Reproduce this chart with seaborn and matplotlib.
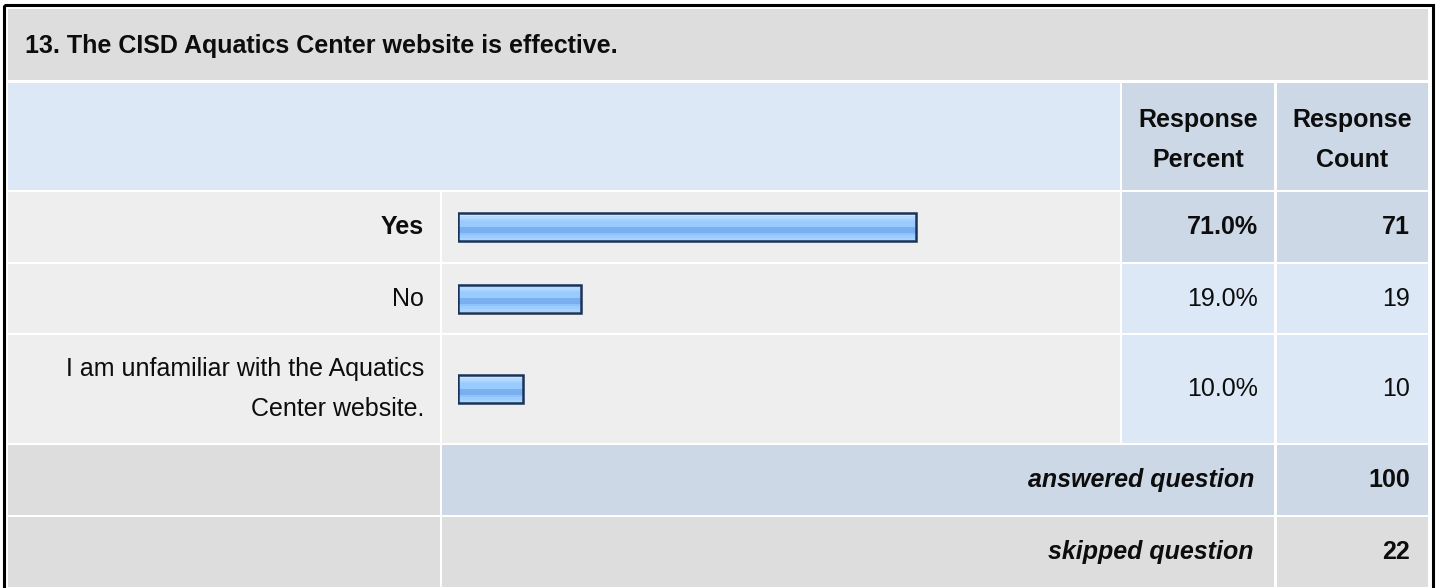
import matplotlib
matplotlib.use('Agg')
import matplotlib.pyplot as plt
import seaborn as sns
import numpy as np
from matplotlib.patches import Rectangle
from matplotlib.colors import to_rgb

# data
title = '13. The CISD Aquatics Center website is effective.'
answers = ['Yes', 'No', 'I am unfamiliar with the Aquatics\nCenter website.']
percents = [71.0, 19.0, 10.0]
counts = [71, 19, 10]
answered = 100
skipped = 22

sns.set_theme(style='white')
plt.rcParams['font.family'] = ['Liberation Sans', 'DejaVu Sans']

W, H = 1438, 588
fig = plt.figure(figsize=(W / 100, H / 100), dpi=100)
fig.patch.set_facecolor('white')
bg = fig.add_axes([0, 0, 1, 1])
bg.set_xlim(0, W)
bg.set_ylim(H, 0)
bg.axis('off')

GRAY = '#dddddd'
ROW = '#eeeeee'
LBLUE = '#dce8f6'
MBLUE = '#ccd8e6'
FS = 18
INK = '#0d0d0d'

# column / row edges (pixels)
L = (8, 440)
B = (442, 1120)
P = (1122, 1274)
C = (1277, 1428)
rows = [(192, 262), (264, 333), (335, 443)]
ans_row = (445, 515)
skip_row = (517, 587)


def cell(x, y, color):
    bg.add_patch(Rectangle((x[0], y[0]), x[1] - x[0], y[1] - y[0],
                           facecolor=color, edgecolor='none', zorder=1))


cell((8, 1428), (9, 80), GRAY)
cell((L[0], B[1]), (83, 190), LBLUE)
cell(P, (83, 190), MBLUE)
cell(C, (83, 190), MBLUE)
for i, r in enumerate(rows):
    cell(L, r, ROW)
    cell(B, r, ROW)
    cell(P, r, MBLUE if i == 0 else LBLUE)
    cell(C, r, MBLUE if i == 0 else LBLUE)
cell(L, ans_row, GRAY)
cell((B[0], P[1]), ans_row, MBLUE)
cell(C, ans_row, MBLUE)
cell(L, skip_row, GRAY)
cell((B[0], P[1]), skip_row, GRAY)
cell(C, skip_row, GRAY)

# outer border
bg.add_patch(Rectangle((3.5, 5), 1429, 600, facecolor='none',
                       edgecolor='black', lw=2.2, zorder=5))

bg.text(25, 46, title, fontsize=FS, fontweight='bold', va='center', ha='left', color=INK)
for xc, word in [((P[0] + P[1]) / 2, 'Response\nPercent'), ((C[0] + C[1]) / 2, 'Response\nCount')]:
    bg.text(xc, 140, word, fontsize=FS, fontweight='bold',
            ha='center', va='center', linespacing=1.85, color=INK)

# gradient for the bars
stops = ['#cde6ff', '#b4d9ff', '#a2d0ff', '#9acbff', '#9acbff', '#7bb0f0',
         '#79aeef', '#8ec2ff', '#9dcdff', '#a6d3ff']
grad = np.array([to_rgb(c) for c in stops])[:, None, :]

for i, r in enumerate(rows):
    bold = 'bold' if i == 0 else 'normal'
    yc = (r[0] + r[1]) / 2
    bg.text(424, yc, answers[i], fontsize=FS, fontweight=bold, ha='right',
            va='center', linespacing=1.8, color=INK)
    bg.text(1258, yc, f'{percents[i]:.1f}%', fontsize=FS, fontweight=bold,
            ha='right', va='center', color=INK)
    bg.text(1410, yc, str(counts[i]), fontsize=FS, fontweight=bold,
            ha='right', va='center', color=INK)

    h = r[1] - r[0]
    ax = fig.add_axes([458 / W, 1 - r[1] / H, (1103 - 458) / W, h / H])
    ax.patch.set_alpha(0)
    sns.barplot(x=[percents[i]], y=[answers[i]], orient='h', width=28 / h,
                color='#9acbff', ax=ax)
    for p in ax.patches:
        p.set_facecolor('none')
        p.set_edgecolor('#1b3358')
        p.set_linewidth(1.8)
        p.set_zorder(3)
        x0, y0, w, hh = p.get_x(), p.get_y(), p.get_width(), p.get_height()
        ax.imshow(grad, extent=[x0, x0 + w, y0 + hh, y0], aspect='auto',
                  interpolation='nearest', clip_path=p, zorder=2)
    ax.set_xlim(0, 100)
    ax.set_ylim(0.5, -0.5)
    ax.axis('off')

bg.text(1254, (ans_row[0] + ans_row[1]) / 2, 'answered question', fontsize=FS,
        fontweight='bold', style='italic', ha='right', va='center', color=INK)
bg.text(1410, (ans_row[0] + ans_row[1]) / 2, str(answered), fontsize=FS,
        fontweight='bold', ha='right', va='center', color=INK)
bg.text(1254, (skip_row[0] + skip_row[1]) / 2, 'skipped question', fontsize=FS,
        fontweight='bold', style='italic', ha='right', va='center', color=INK)
bg.text(1410, (skip_row[0] + skip_row[1]) / 2, str(skipped), fontsize=FS,
        fontweight='bold', ha='right', va='center', color=INK)

fig.savefig('out.png', dpi=100)
